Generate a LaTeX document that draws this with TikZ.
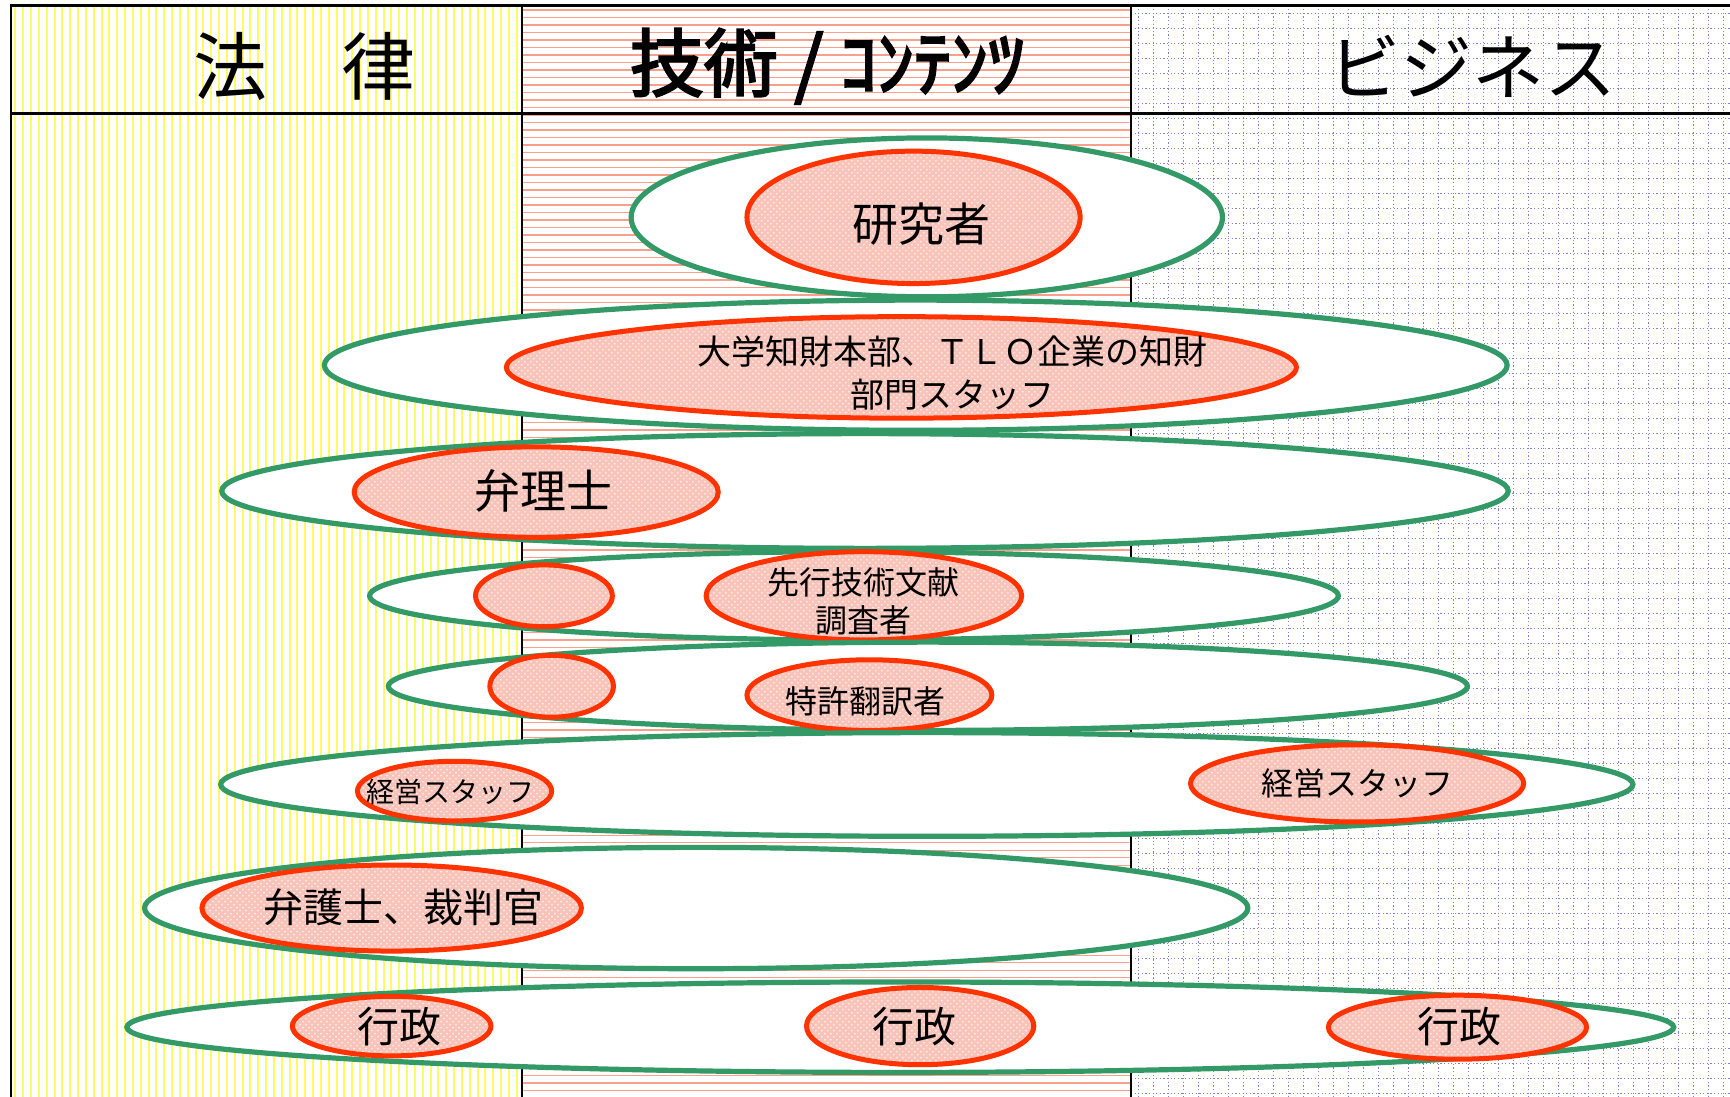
\documentclass[tikz,border=0pt]{standalone}
\usepackage{fontspec}
\setmainfont{Noto Sans CJK JP}
\newfontfamily\jpb[FakeBold=3]{Noto Sans CJK JP}
\usetikzlibrary{shapes.geometric,patterns}
\definecolor{grn}{RGB}{51,153,102}
\definecolor{rd}{RGB}{255,51,0}
\definecolor{pk}{RGB}{248,195,185}
\definecolor{ylw}{RGB}{255,250,100}
\definecolor{rline}{RGB}{248,160,140}
\definecolor{bline}{RGB}{130,130,210}
\newcommand\myell[6]{\node[#6, minimum width=#4*1.1034pt, minimum height=#5*1.1034pt] (#1) at (#2,#3) {};}
\tikzset{
  gell/.style={ellipse, draw=grn, line width=2.6pt, fill=white, inner sep=0pt},
  rell/.style={ellipse, draw=rd, line width=2.5pt, inner sep=0pt,
    preaction={fill=pk},
    preaction={pattern=crosshatch dots, pattern color=white!70!pk}},
  lbl/.style={inner sep=0pt, align=center, text=black},
  hdr/.style={inner sep=0pt, text=black},
  frame/.style={draw=black, line width=1.3pt}
}
\begin{document}
\begin{tikzpicture}[x=0.5517pt,y=-0.5517pt]
\useasboundingbox (0,0) rectangle (1568,994);
\fill[white] (0,0) rectangle (1568,994);
% left column: yellow vertical lines
\begin{scope}
\clip (10,5) rectangle (473,994);
\foreach \i in {0,...,66} {\draw[ylw, line width=1pt] (14+7.1*\i,5) -- (14+7.1*\i,994);}
\end{scope}
% middle column: red horizontal lines
\begin{scope}
\clip (473,5) rectangle (1025,994);
\foreach \i in {0,...,146} {\draw[rline, line width=0.7pt] (473,9+6.8*\i) -- (1025,9+6.8*\i);}
\end{scope}
% right column: blue dotted grid
\begin{scope}
\clip (1025,5) rectangle (1568,994);
\foreach \i in {0,...,40} {\draw[bline, line width=0.5pt, dash pattern=on 0.6pt off 1.2pt] (1032+13.6*\i,5) -- (1032+13.6*\i,994);}
\foreach \i in {0,...,73} {\draw[bline, line width=0.5pt, dash pattern=on 0.6pt off 1.2pt] (1025,12+13.6*\i) -- (1568,12+13.6*\i);}
\end{scope}
% frame
\draw[frame] (10,994) -- (10,5) -- (1568,5);
\draw[frame] (10,103) -- (1568,103);
\draw[frame] (473,5) -- (473,994);
\draw[frame] (1025,5) -- (1025,994);
% headers
\node[hdr, font=\fontsize{37}{40}\selectfont] (h1) at (276,60) {法　律};
\node[hdr, font=\fontsize{37}{40}\selectfont\jpb] (h2) at (750,60) {技術 / ｺﾝﾃﾝﾂ};
\node[hdr, font=\fontsize{36}{40}\selectfont] (h3) at (1335,60) {ビジネス};
% row 1
\myell{g1}{840}{197}{268}{72}{gell}
\myell{r1}{828}{197}{151}{60}{rell}
% row 2
\myell{g2}{830}{331}{536}{59}{gell}
\myell{r2}{817}{333}{358}{46}{rell}
% row 3
\myell{g3}{784}{445}{583}{52}{gell}
\myell{r3}{486}{446}{165}{41}{rell}
% row 4
\myell{g4}{774}{540}{439}{40}{gell}
\myell{r4a}{493}{540}{62}{28}{rell}
\myell{r4b}{783}{540}{143}{40}{rell}
% row 5
\myell{g5}{841}{622}{489}{40}{gell}
\myell{r5a}{500}{622}{56}{28}{rell}
\myell{r5b}{788}{630}{111}{32}{rell}
% row 6
\myell{g6}{840}{711}{640}{47}{gell}
\myell{r6a}{412}{717}{88}{27}{rell}
\myell{r6b}{1230}{710}{151}{35}{rell}
% row 7
\myell{g7}{631}{823}{500}{55}{gell}
\myell{r7}{355}{823}{172}{39}{rell}
% row 8
\myell{g8}{816}{931}{701}{41}{gell}
\myell{r8a}{355}{930}{90}{27}{rell}
\myell{r8b}{834}{930}{103}{35}{rell}
\myell{r8c}{1321}{931}{117}{29}{rell}
% labels
\node[lbl, font=\fontsize{23}{26}\selectfont] (t1) at (835,203) {研究者};
\node[lbl, font=\fontsize{17}{21.5}\selectfont] (t2) at (863,338) {大学知財本部、ＴＬＯ企業の知財\\部門スタッフ};
\node[lbl, font=\fontsize{23}{26}\selectfont] (t3) at (493,445) {弁理士};
\node[lbl, font=\fontsize{16}{19.3}\selectfont] (t4) at (783,545) {先行技術文献\\調査者};
\node[lbl, font=\fontsize{16}{19}\selectfont] (t5) at (784,636) {特許翻訳者};
\node[lbl, font=\fontsize{14}{17}\selectfont] (t6a) at (408,718) {経営スタッフ};
\node[lbl, font=\fontsize{16}{19}\selectfont] (t6b) at (1230,710) {経営スタッフ};
\node[lbl, font=\fontsize{20}{24}\selectfont] (t7) at (366,822) {弁護士、裁判官};
\node[lbl, font=\fontsize{21}{24}\selectfont] (t8a) at (362,930) {行政};
\node[lbl, font=\fontsize{21}{24}\selectfont] (t8b) at (829,930) {行政};
\node[lbl, font=\fontsize{21}{24}\selectfont] (t8c) at (1323,930) {行政};
\end{tikzpicture}
\end{document}
